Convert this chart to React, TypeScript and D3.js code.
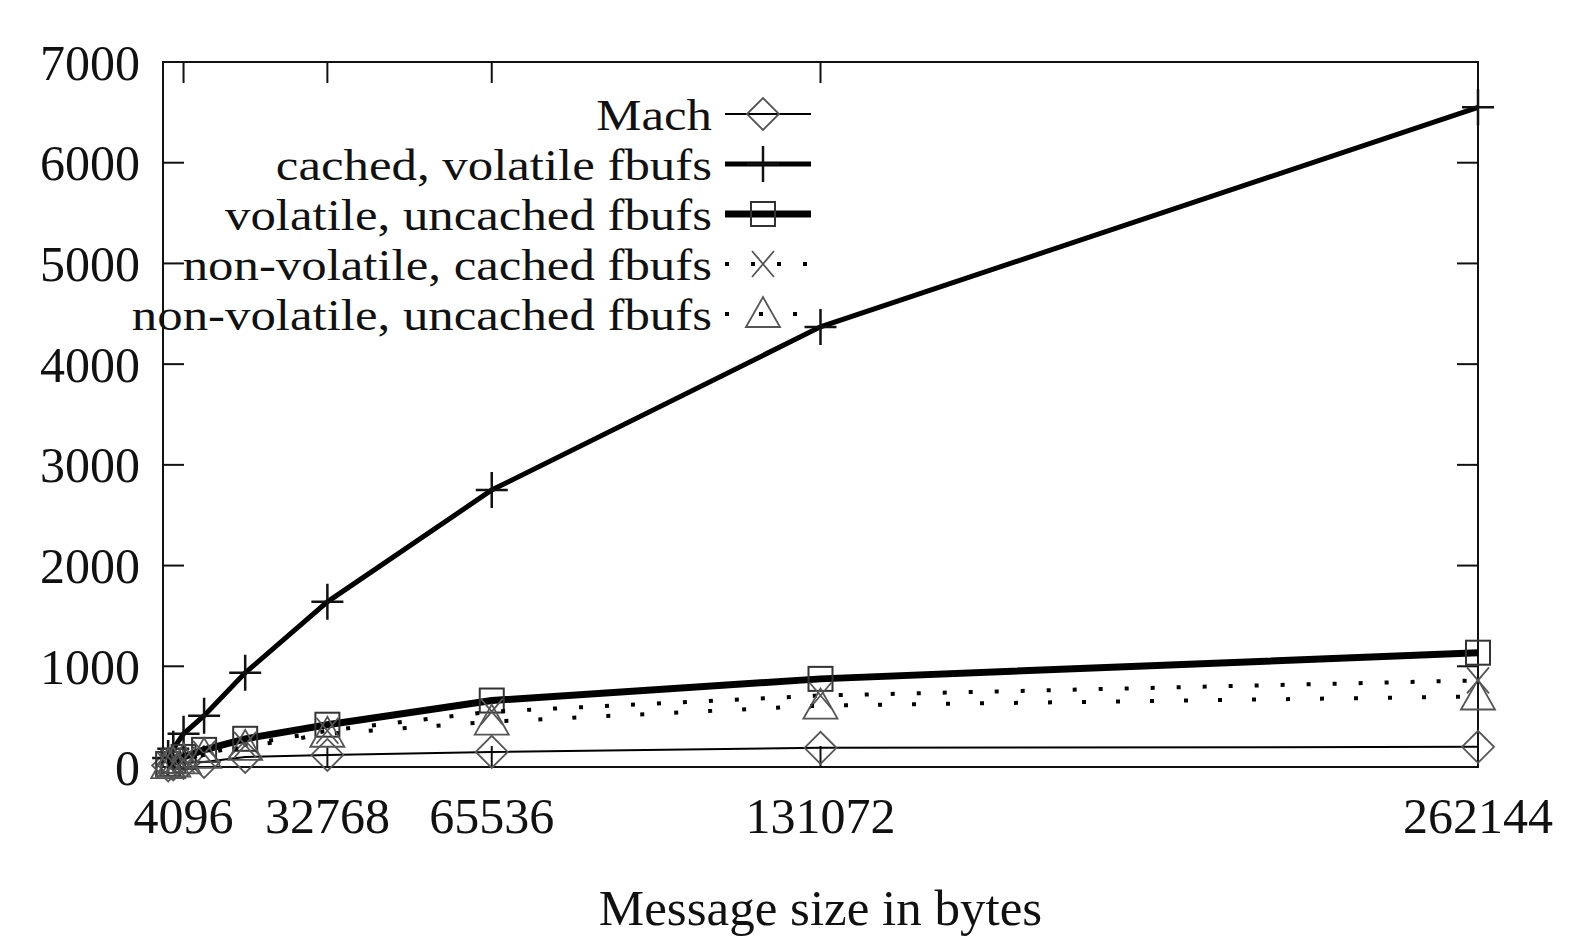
import React from "react";
import * as d3 from "d3";

// message sizes (bytes) and throughput per configuration
const sizes = [1024, 2048, 4096, 8192, 16384, 32768, 65536, 131072, 262144];
const mach = [15, 25, 40, 50, 100, 120, 150, 190, 200];
const cachedVolatile = [90, 180, 330, 510, 935, 1640, 2750, 4370, 6550];
const volatileUncached = [30, 60, 100, 170, 280, 420, 660, 875, 1135];
const nonVolCached = [20, 40, 70, 130, 220, 360, 550, 710, 860];
const nonVolUncached = [18, 35, 65, 120, 200, 330, 450, 610, 700];

const xTicks = [4096, 32768, 65536, 131072, 262144];
const yTicks = [0, 1000, 2000, 3000, 4000, 5000, 6000, 7000];
const seriesNames = [
  "Mach",
  "cached, volatile fbufs",
  "volatile, uncached fbufs",
  "non-volatile, cached fbufs",
  "non-volatile, uncached fbufs",
];

const W = 1580, H = 949;
const FONT = "'Liberation Serif', 'DejaVu Serif', serif";

const marker = (kind: string, cx: number, cy: number, key: any) => {
  const grey = "#555";
  if (kind === "diamond")
    return <path key={key} d={`M${cx - 16},${cy}L${cx},${cy - 16}L${cx + 16},${cy}L${cx},${cy + 16}Z`} fill="none" stroke={grey} strokeWidth={1.8} />;
  if (kind === "plus")
    return <path key={key} d={`M${cx - 16},${cy}H${cx + 16}M${cx},${cy - 18}V${cy + 18}`} stroke="#111" strokeWidth={2.5} />;
  if (kind === "square")
    return <rect key={key} x={cx - 12} y={cy - 12} width={24} height={24} fill="none" stroke="#333" strokeWidth={2} />;
  if (kind === "cross")
    return <path key={key} d={`M${cx - 11},${cy - 13}L${cx + 11},${cy + 13}M${cx + 11},${cy - 13}L${cx - 11},${cy + 13}`} stroke={grey} strokeWidth={1.8} />;
  return <path key={key} d={`M${cx - 17},${cy + 13}L${cx},${cy - 17}L${cx + 17},${cy + 13}Z`} fill="none" stroke={grey} strokeWidth={1.8} />;
};

export default function App() {
  const x = d3.scaleLinear().domain([0, 262144]).range([163, 1478]);
  const y = d3.scaleLinear().domain([0, 7000]).range([767, 62]);
  const [x0, x1] = x.range();
  const [y0, y1] = y.range();

  const series = [
    { vals: mach, kind: "diamond", width: 2, dash: undefined },
    { vals: cachedVolatile, kind: "plus", width: 5, dash: undefined },
    { vals: volatileUncached, kind: "square", width: 7, dash: undefined },
    { vals: nonVolCached, kind: "cross", width: 4, dash: "4 22" },
    { vals: nonVolUncached, kind: "triangle", width: 4, dash: "4 30" },
  ];

  const line = d3.line<number>().x((_, i) => x(sizes[i])).y((d) => y(d));
  const tickLen = 21;

  return (
    <svg width={W} height={H} style={{ position: "absolute", left: 0, top: 0, background: "#fff" }} fontFamily={FONT}>
      <rect x={0} y={0} width={W} height={H} fill="#fff" />
      {/* ticks, mirrored on all sides */}
      {yTicks.map((t) => (
        <g key={"y" + t}>
          <line x1={x0} x2={x0 + tickLen} y1={y(t)} y2={y(t)} stroke="#111" strokeWidth={2} />
          <line x1={x1} x2={x1 - tickLen} y1={y(t)} y2={y(t)} stroke="#111" strokeWidth={2} />
          <text x={140} y={y(t)} dy="0.35em" textAnchor="end" fontSize={50} fill="#111">{t}</text>
        </g>
      ))}
      {xTicks.map((t) => (
        <g key={"x" + t}>
          <line x1={x(t)} x2={x(t)} y1={y0} y2={y0 - tickLen} stroke="#111" strokeWidth={2} />
          <line x1={x(t)} x2={x(t)} y1={y1} y2={y1 + tickLen} stroke="#111" strokeWidth={2} />
          <text x={x(t)} y={833} textAnchor="middle" fontSize={50} fill="#111">{t}</text>
        </g>
      ))}
      <rect x={x0} y={y1} width={x1 - x0} height={y0 - y1} fill="none" stroke="#111" strokeWidth={2} />
      <text x={(x0 + x1) / 2} y={925} textAnchor="middle" fontSize={51} fill="#111">Message size in bytes</text>

      {/* series */}
      {series.map((s, si) => (
        <g key={"s" + si}>
          <path d={line(s.vals) || ""} fill="none" stroke="#000" strokeWidth={s.width} strokeDasharray={s.dash} />
          {s.vals.map((v, i) => marker(s.kind, x(sizes[i]), y(v), i))}
        </g>
      ))}

      {/* legend: slightly narrower glyph height, stretched to reference width */}
      {seriesNames.map((name, i) => {
        const cy = 114 + i * 50;
        const s = series[i];
        return (
          <g key={"l" + i}>
            <g transform={`translate(712,${cy}) scale(1.13,1)`}>
              <text x={0} y={0} dy="0.35em" textAnchor="end" fontSize={45} fill="#111">{name}</text>
            </g>
            <line x1={725} x2={811} y1={cy} y2={cy} stroke="#000" strokeWidth={s.width} strokeDasharray={s.dash} />
            {marker(s.kind, 763, cy, "m")}
          </g>
        );
      })}
    </svg>
  );
}
